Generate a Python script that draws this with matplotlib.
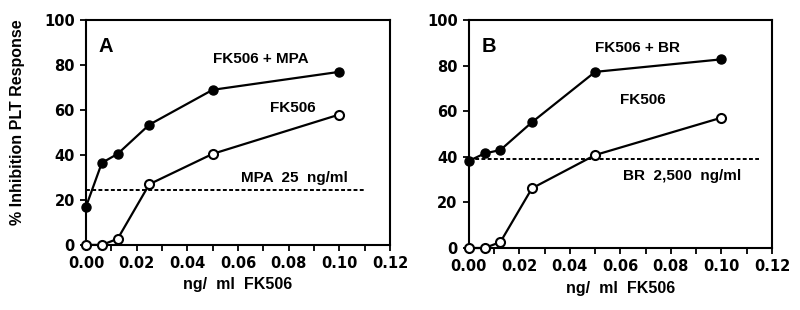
import matplotlib.pyplot as plt
import numpy as np

plt.rcParams['font.family'] = ['Liberation Sans', 'DejaVu Sans']
plt.rcParams['font.weight'] = 'bold'

# doses of FK506 (ng/ml)
dose = [0.0, 0.00625, 0.0125, 0.025, 0.05, 0.1]

# panel A
fk506_a = [0, 0, 2.7, 27, 40.5, 58]
fk506_mpa = [17, 36.5, 40.5, 53.5, 69, 77]
mpa_level = 24.5

# panel B
fk506_b = [0, 0, 2.6, 26.2, 40.8, 57.2]
fk506_br = [38.2, 41.5, 43, 55.2, 77.3, 82.8]
br_level = 39

xticks = np.arange(0, 0.121, 0.01)
xlabels = ['%.2f' % v if i % 2 == 0 else '' for i, v in enumerate(xticks)]

fig = plt.figure(figsize=(8, 3.1), dpi=100)
axA = fig.add_axes([0.1075, 0.21, 0.38, 0.725])
axB = fig.add_axes([0.586, 0.20, 0.379, 0.735])


def panel(ax, closed, opened, level, letter, combo, lvl_txt, dash_end, pos, xlpad):
    ax.plot(dose, closed, '-o', color='black', lw=1.6, ms=6.5,
            mfc='black', mec='black', clip_on=False, zorder=3)
    ax.plot(dose, opened, '-o', color='black', lw=1.6, ms=6.5,
            mfc='white', mec='black', mew=1.5, clip_on=False, zorder=4)
    ax.plot([0, dash_end], [level, level], color='black', lw=1.4,
            ls=(0, (2, 1.2)), zorder=2)
    ax.set_xlim(0, 0.12)
    ax.set_ylim(0, 100)
    ax.set_xticks(xticks)
    ax.set_xticklabels(xlabels)
    ax.set_yticks([0, 20, 40, 60, 80, 100])
    ax.tick_params(direction='out', length=4.5, width=1.3, labelsize=10.5)
    for lab in ax.get_xticklabels() + ax.get_yticklabels():
        lab.set_fontweight('bold')
        lab.set_family('DejaVu Sans')
    for s in ax.spines.values():
        s.set_linewidth(1.5)
    ax.set_xlabel('ng/  ml  FK506', fontsize=11.5, fontweight='bold', labelpad=xlpad)
    ax.text(pos[0][0], pos[0][1], letter, fontsize=14.5, fontweight='bold')
    ax.text(pos[1][0], pos[1][1], combo, fontsize=11, fontweight='bold')
    ax.text(pos[2][0], pos[2][1], 'FK506', fontsize=11, fontweight='bold')
    ax.text(pos[3][0], pos[3][1], lvl_txt, fontsize=11, fontweight='bold')


panel(axA, fk506_mpa, fk506_a, mpa_level, 'A', 'FK506 + MPA',
      'MPA  25  ng/ml', 0.11,
      [(0.005, 86), (0.050, 81), (0.0727, 59), (0.061, 28)], 4)
panel(axB, fk506_br, fk506_b, br_level, 'B', 'FK506 + BR',
      'BR  2,500  ng/ml', 0.115,
      [(0.005, 86), (0.050, 86), (0.060, 63), (0.061, 30)], 5)

fig.text(18 / 800, 1 - 122 / 310, '% Inhibition PLT Response', rotation=90,
         ha='center', va='center', fontsize=11.5, fontweight='bold')

fig.savefig('out.png', dpi=100)
